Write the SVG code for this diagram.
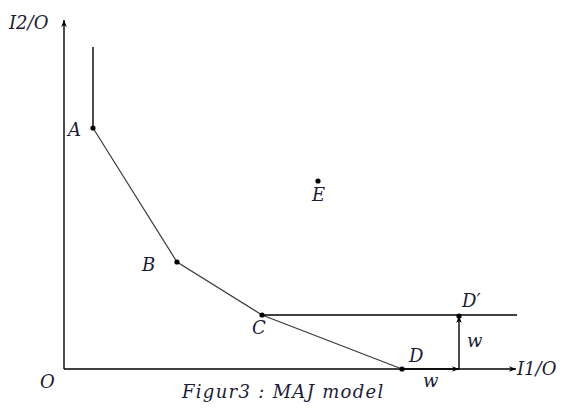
<svg xmlns="http://www.w3.org/2000/svg" width="571" height="408" viewBox="0 0 571 408">
<defs>
<marker id="ah" viewBox="0 0 10 10" refX="10" refY="5" markerWidth="7" markerHeight="7" orient="auto" markerUnits="userSpaceOnUse">
<path d="M0,1 L10,5 L0,9 L3,5 Z" fill="#000"/>
</marker>
<style>
.t{font-family:'DejaVu Serif',serif;font-style:italic;font-size:18px;fill:#1c1c38}
.cap{letter-spacing:1.3px}
.ln{stroke:#000;stroke-width:1.4;fill:none}
.fr{stroke:#3a3a3a;stroke-width:1.2;fill:none}
.pt{fill:#000}
</style>
</defs>
<rect width="571" height="408" fill="#fff"/>
<g id="connectors">
<line class="ln" x1="64" y1="369" x2="64" y2="20" marker-end="url(#ah)"/>
<line class="ln" x1="64" y1="369" x2="516" y2="369" marker-end="url(#ah)"/>
<line class="ln" x1="402" y1="369" x2="459" y2="369" marker-end="url(#ah)"/>
<line class="ln" x1="459" y1="369" x2="459" y2="316" marker-end="url(#ah)"/>
<line class="ln" x1="93" y1="128" x2="93" y2="47"/>
<polyline class="fr" points="93,128 177,262 262,315 402,369"/>
<line class="ln" x1="262" y1="315" x2="517" y2="315"/>
</g>
<g id="A"><circle class="pt" cx="93" cy="128" r="2.6"/><text class="t" x="68" y="136">A</text></g>
<g id="B"><circle class="pt" cx="177" cy="262" r="2.6"/><text class="t" x="142" y="271">B</text></g>
<g id="C"><circle class="pt" cx="262" cy="315" r="2.6"/><text class="t" x="252" y="334">C</text></g>
<g id="D"><circle class="pt" cx="402" cy="369" r="2.6"/><text class="t" x="409" y="362">D</text></g>
<g id="Dp"><circle class="pt" cx="459" cy="316" r="2.6"/><text class="t" x="462" y="307">D′</text></g>
<g id="E"><circle class="pt" cx="318" cy="181" r="2.6"/><text class="t" x="312" y="201">E</text></g>
<g id="labels">
<text class="t" x="9" y="29">I2/O</text>
<text class="t" x="517" y="375">I1/O</text>
<text class="t" x="40" y="388">O</text>
<text class="t" x="467" y="347">w</text>
<text class="t" x="423" y="387">w</text>
<text class="t cap" x="182" y="398">Figur3 : MAJ model</text>
</g>
</svg>
